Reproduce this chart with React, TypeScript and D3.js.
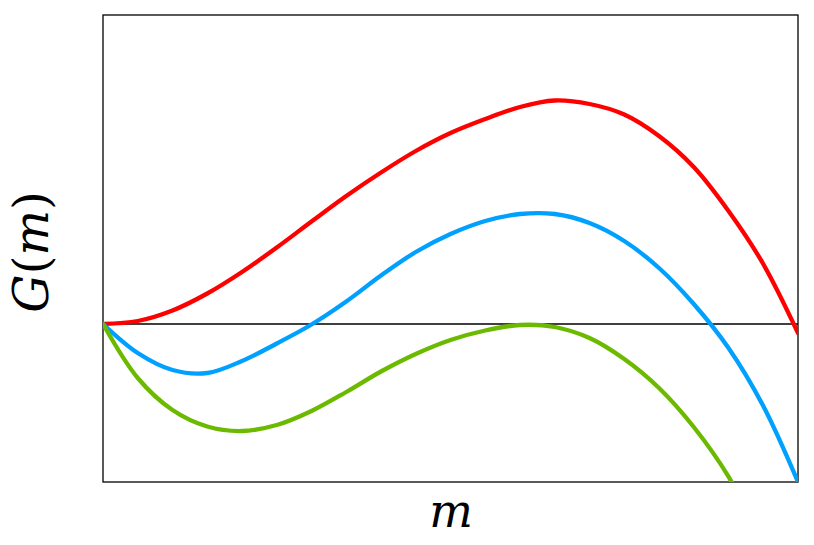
import React from "react";
import * as d3 from "d3";

const mValues = [0, 0.05, 0.1, 0.15, 0.2, 0.25, 0.3, 0.35, 0.4, 0.45, 0.5, 0.55, 0.6, 0.65, 0.7, 0.75, 0.8, 0.85, 0.9, 0.95, 1.0];
const redG = [0, 0.03, 0.135, 0.305, 0.52, 0.765, 1.025, 1.28, 1.515, 1.73, 1.91, 2.05, 2.17, 2.235, 2.2, 2.095, 1.88, 1.57, 1.13, 0.6, -0.09];
const blueG = [0, -0.29, -0.46, -0.49, -0.37, -0.195, -0.005, 0.225, 0.485, 0.72, 0.9, 1.03, 1.1, 1.1, 1.01, 0.83, 0.56, 0.2, -0.24, -0.82, -1.58];
const greenG = [0, -0.54, -0.86, -1.025, -1.07, -1.01, -0.87, -0.68, -0.475, -0.3, -0.16, -0.065, -0.01, -0.03, -0.14, -0.35, -0.64, -1.03, -1.526, -2.2, -3.0];

const seriesColors = ["#ff0000", "#00a0ff", "#6cba00"];

const W = 814, H = 545;
const X0 = 103, X1 = 798, Y0 = 15, Y1 = 482;

export default function App() {
  const x = d3.scaleLinear().domain([0, 1]).range([X0, X1]);
  const y = d3.scaleLinear().domain([-1.58, 3.09]).range([Y1, Y0]);
  const line = d3
    .line<[number, number]>()
    .x((d) => x(d[0]))
    .y((d) => y(d[1]))
    .curve(d3.curveCatmullRom.alpha(0.5));
  const all = [redG, blueG, greenG];
  return (
    <svg width={W} height={H} style={{ position: "absolute", left: 0, top: 0, background: "#fff" }}>
      <defs>
        <clipPath id="plotclip">
          <rect x={X0} y={Y0} width={X1 - X0} height={Y1 - Y0} />
        </clipPath>
      </defs>
      <rect x={X0} y={Y0} width={X1 - X0} height={Y1 - Y0} fill="none" stroke="#000" strokeWidth={1.3} />
      <line x1={X0} x2={X1} y1={y(0)} y2={y(0)} stroke="#000" strokeWidth={1.3} />
      <g clipPath="url(#plotclip)">
        {all.map((vals, i) => (
          <path
            key={i}
            d={line(mValues.map((m, j) => [m, vals[j]] as [number, number])) || ""}
            fill="none"
            stroke={seriesColors[i]}
            strokeWidth={4.3}
            strokeLinecap="round"
          />
        ))}
      </g>
      <text x={451} y={527} textAnchor="middle" fontFamily="DejaVu Serif" fontStyle="italic" fontSize={46}>
        m
      </text>
      <text
        transform="translate(48,252) rotate(-90)"
        textAnchor="middle"
        fontFamily="DejaVu Serif"
        fontSize={48}
      >
        <tspan fontStyle="italic">G</tspan>
        <tspan>(</tspan>
        <tspan fontStyle="italic">m</tspan>
        <tspan>)</tspan>
      </text>
    </svg>
  );
}
